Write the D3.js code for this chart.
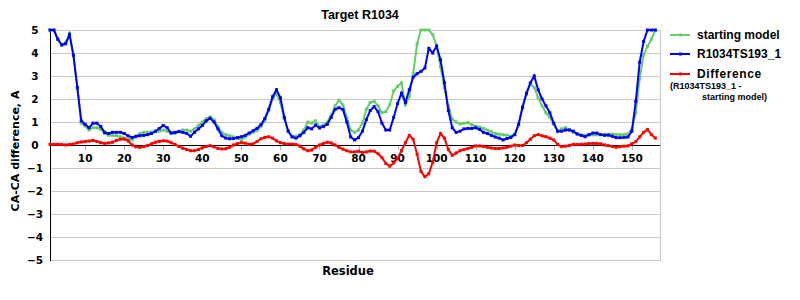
<!DOCTYPE html>
<html>
<head>
<meta charset="utf-8">
<script src="https://cdn.jsdelivr.net/npm/d3@7"></script>
<style>
  body { margin: 0; background: #fff; }
  svg { display: block; }
</style>
</head>
<body>
<div id="vis"></div>
<script>
// values, one per residue (1..156)
var startingModel = [
  5, 5, 4.6, 4.35, 4.45, 4.85, 3.9, 2.45, 0.95, 0.82,
  0.65, 0.75, 0.75, 0.68, 0.5, 0.42, 0.42, 0.4, 0.36, 0.3,
  0.25, 0.22, 0.35, 0.5, 0.55, 0.55, 0.57, 0.58, 0.6, 0.65,
  0.6, 0.52, 0.5, 0.6, 0.65, 0.65, 0.6, 0.7, 0.85, 1.0,
  1.15, 1.22, 1.1, 0.8, 0.55, 0.45, 0.4, 0.35, 0.3, 0.22,
  0.35, 0.48, 0.55, 0.62, 0.8, 1.05, 1.5, 2.0, 2.25, 1.85,
  1.15, 0.6, 0.38, 0.38, 0.45, 0.65, 1.0, 0.95, 1.05, 0.8,
  0.87, 1.0, 1.3, 1.7, 1.95, 1.75, 1.2, 0.65, 0.55, 0.65,
  0.95, 1.55, 1.85, 1.9, 1.7, 1.4, 1.45, 1.75, 2.35, 2.55,
  2.7, 1.75, 2.1, 3.1, 4.4, 5, 5, 5, 4.8, 4.3,
  3.4, 2.5, 1.7, 1.12, 1.0, 0.92, 0.95, 0.98, 0.88, 0.82,
  0.78, 0.72, 0.65, 0.58, 0.5, 0.47, 0.45, 0.43, 0.38, 0.45,
  0.9, 1.6, 2.2, 2.65, 2.5, 2.05, 1.7, 1.4, 1.2, 0.9,
  0.58, 0.7, 0.75, 0.68, 0.55, 0.48, 0.43, 0.42, 0.43, 0.44,
  0.44, 0.45, 0.47, 0.47, 0.47, 0.46, 0.45, 0.45, 0.48, 0.7,
  1.4, 2.9, 3.9, 4.3, 4.6, 5
];

var ts193 = [
  5, 5, 4.6, 4.35, 4.4, 4.8, 3.9, 2.5, 1.05, 0.9,
  0.75, 0.95, 0.95, 0.8, 0.55, 0.5, 0.55, 0.55, 0.55, 0.5,
  0.4, 0.33, 0.38, 0.4, 0.42, 0.45, 0.5, 0.6, 0.72, 0.85,
  0.75, 0.52, 0.55, 0.58, 0.55, 0.5, 0.38, 0.55, 0.7, 0.85,
  1.05, 1.16, 1.0, 0.7, 0.4, 0.3, 0.27, 0.28, 0.32, 0.36,
  0.42, 0.52, 0.62, 0.72, 0.88, 1.15, 1.55, 2.1, 2.4, 2.05,
  1.2, 0.6, 0.35, 0.3, 0.4, 0.55, 0.75, 0.7, 0.87, 0.74,
  0.8, 0.9, 1.2, 1.55, 1.62, 1.55, 1.0, 0.35, 0.22, 0.32,
  0.6, 1.1, 1.5, 1.67, 1.45, 0.95, 0.65, 0.65, 1.2, 1.8,
  2.25, 1.85, 2.4, 2.95, 3.1, 3.2, 3.35, 4.2, 4.0, 4.3,
  3.7, 2.7, 1.5, 0.75, 0.55, 0.6, 0.7, 0.72, 0.72, 0.75,
  0.68, 0.55, 0.5, 0.42, 0.35, 0.3, 0.22, 0.28, 0.33, 0.45,
  0.9, 1.65, 2.25, 2.7, 3.0, 2.4, 2.0, 1.7, 1.4, 0.95,
  0.6, 0.6, 0.65, 0.65, 0.6, 0.48, 0.42, 0.36, 0.45, 0.52,
  0.52, 0.45, 0.42, 0.43, 0.38, 0.32, 0.32, 0.33, 0.35, 0.6,
  1.9, 3.6, 4.5, 5, 5, 5
];

var difference = [
  0.03, 0.03, 0.03, 0.02, 0.0, 0.02, 0.04, 0.1, 0.13, 0.15,
  0.17, 0.2, 0.15, 0.1, 0.07, 0.09, 0.12, 0.2, 0.25, 0.26,
  0.18, 0.0, -0.08, -0.1, -0.07, -0.02, 0.05, 0.12, 0.16, 0.18,
  0.17, 0.1, 0.03, -0.06, -0.14, -0.2, -0.25, -0.25, -0.2, -0.12,
  -0.06, -0.03, -0.08, -0.15, -0.17, -0.16, -0.1, 0.0, 0.06, 0.1,
  0.08, 0.03, 0.05, 0.15, 0.27, 0.33, 0.36, 0.3, 0.18, 0.1,
  0.06, 0.04, 0.04, 0.02, -0.05, -0.17, -0.25, -0.22, -0.1, 0.0,
  0.07, 0.12, 0.09, 0.0, -0.1, -0.18, -0.25, -0.3, -0.3, -0.27,
  -0.32, -0.3, -0.26, -0.27, -0.38, -0.55, -0.8, -0.92, -0.78, -0.58,
  -0.25, 0.1, 0.42, 0.25, -0.4, -1.15, -1.38, -1.25, -0.75, 0.1,
  0.5, 0.3, -0.2, -0.45, -0.35, -0.25, -0.2, -0.15, -0.1, -0.04,
  -0.04, -0.06, -0.1, -0.13, -0.15, -0.15, -0.13, -0.1, -0.05, 0.0,
  -0.02, -0.02, 0.1, 0.25, 0.4, 0.45, 0.4, 0.36, 0.3, 0.22,
  0.02, -0.07, -0.05, -0.02, 0.03, 0.02, 0.03, 0.04, 0.06, 0.07,
  0.07, 0.05, 0.0, -0.03, -0.06, -0.1, -0.07, -0.05, -0.04, 0.05,
  0.15, 0.35, 0.55, 0.67, 0.45, 0.3
];

var xTicks = [10, 20, 30, 40, 50, 60, 70, 80, 90, 100, 110, 120, 130, 140, 150];
var yTicks = [5, 4, 3, 2, 1, 0, -1, -2, -3, -4, -5];

var seriesNames = ["starting model", "R1034TS193_1", "Difference"];
var seriesColors = ["#66cc66", "#0000ff", "#ff0000"];

var series = [
  { name: seriesNames[0], color: seriesColors[0], values: startingModel },
  { name: seriesNames[1], color: seriesColors[1], values: ts193 },
  { name: seriesNames[2], color: seriesColors[2], values: difference }
];

var svg = d3.select("#vis").append("svg")
    .attr("width", 800)
    .attr("height", 300);

var plot = { left: 50, right: 660, top: 30, bottom: 260 };

var x = d3.scaleLinear().domain([1, 157.2]).range([plot.left, plot.right]);
var y = d3.scaleLinear().domain([-5, 5]).range([plot.bottom, plot.top]);

var tickFont = "'DejaVu Sans', Verdana, sans-serif";
var labelFont = "'Liberation Sans', Arial, sans-serif";

// gridlines
svg.append("g").selectAll("line")
    .data(yTicks.filter(function(d) { return d !== 0; }))
    .enter().append("line")
    .attr("x1", plot.left).attr("x2", plot.right)
    .attr("y1", function(d) { return y(d) + 0.5; })
    .attr("y2", function(d) { return y(d) + 0.5; })
    .attr("stroke", "#c8c8c8")
    .attr("stroke-width", 1);

// right border
svg.append("line")
    .attr("x1", plot.right + 0.5).attr("x2", plot.right + 0.5)
    .attr("y1", plot.top).attr("y2", plot.bottom + 1)
    .attr("stroke", "#c8c8c8");

// x tick marks on zero line
svg.append("g").selectAll("line")
    .data(xTicks)
    .enter().append("line")
    .attr("x1", function(d) { return Math.round(x(d)) + 0.5; })
    .attr("x2", function(d) { return Math.round(x(d)) + 0.5; })
    .attr("y1", y(0)).attr("y2", y(0) + 5)
    .attr("stroke", "#b0b0b0");

// zero line
svg.append("line")
    .attr("x1", plot.left).attr("x2", plot.right)
    .attr("y1", y(0) + 0.5).attr("y2", y(0) + 0.5)
    .attr("stroke", "#000");

// y axis line
svg.append("line")
    .attr("x1", plot.left + 0.5).attr("x2", plot.left + 0.5)
    .attr("y1", plot.top).attr("y2", plot.bottom + 1)
    .attr("stroke", "#000");

// y tick labels
svg.append("g").selectAll("text")
    .data(yTicks)
    .enter().append("text")
    .attr("x", 35)
    .attr("y", function(d) { return y(d) + 4; })
    .attr("text-anchor", "middle")
    .style("font", "bold 10.5px " + tickFont)
    .text(function(d) { return d < 0 ? "\u2212" + Math.abs(d) : d; });

// x tick labels
svg.append("g").selectAll("text")
    .data(xTicks)
    .enter().append("text")
    .attr("x", function(d) { return x(d); })
    .attr("y", y(0) + 17)
    .attr("text-anchor", "middle")
    .style("font", "bold 10.5px " + tickFont)
    .text(function(d) { return d; });

// lines + small dash markers like the excel original
var line = d3.line()
    .x(function(d, i) { return x(i + 1); })
    .y(function(d) { return y(d); });

series.forEach(function(s) {
  var g = svg.append("g");
  g.append("path")
      .datum(s.values)
      .attr("d", line)
      .attr("fill", "none")
      .attr("stroke", s.color)
      .attr("stroke-width", 2)
      .attr("stroke-linejoin", "miter");
  g.selectAll("rect")
      .data(s.values)
      .enter().append("rect")
      .attr("x", function(d, i) { return x(i + 1) - 1.5; })
      .attr("y", function(d) { return y(d) - 1.5; })
      .attr("width", 3)
      .attr("height", 3)
      .attr("fill", s.color);
});

// title
svg.append("text")
    .attr("x", 360).attr("y", 19)
    .attr("text-anchor", "middle")
    .style("font", "bold 12.5px " + labelFont)
    .text("Target R1034");

// axis titles
svg.append("text")
    .attr("transform", "translate(19,151) rotate(-90)")
    .attr("text-anchor", "middle")
    .style("font", "bold 11px " + tickFont)
    .text("CA-CA difference, A");

svg.append("text")
    .attr("x", 348).attr("y", 275)
    .attr("text-anchor", "middle")
    .style("font", "bold 11.5px " + tickFont)
    .text("Residue");

// legend
var legendY = [35, 54, 74];
var legend = svg.append("g").selectAll("g")
    .data(series)
    .enter().append("g")
    .attr("transform", function(d, i) { return "translate(670," + legendY[i] + ")"; });

legend.append("line")
    .attr("x1", 0).attr("x2", 20)
    .attr("y1", 0).attr("y2", 0)
    .attr("stroke", function(d) { return d.color; })
    .attr("stroke-width", 2);
legend.append("rect")
    .attr("x", 9).attr("y", -1.5).attr("width", 3).attr("height", 3)
    .attr("fill", function(d) { return d.color; });
legend.append("text")
    .attr("x", 27).attr("y", 4)
    .style("font", "bold 12px " + labelFont)
    .style("letter-spacing", function(d, i) { return i === 2 ? "0.6px" : "0px"; })
    .text(function(d) { return d.name; });

svg.append("text")
    .attr("x", 670).attr("y", 89)
    .style("font", "bold 9px " + labelFont)
    .text("(R1034TS193_1 -");
svg.append("text")
    .attr("x", 702).attr("y", 100)
    .style("font", "bold 9px " + labelFont)
    .text("starting model)");
</script>
</body>
</html>
